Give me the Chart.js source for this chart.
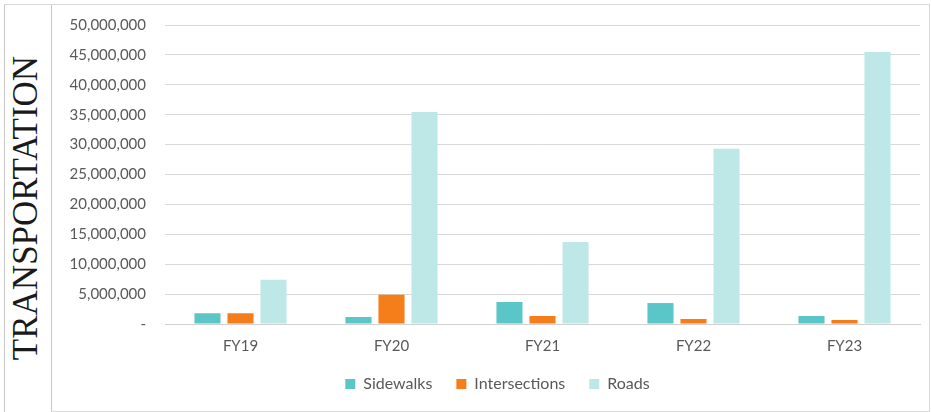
<!DOCTYPE html>
<html>
<head>
<meta charset="utf-8">
<script src="https://cdn.jsdelivr.net/npm/chart.js@4"></script>
<style>
  html, body { margin: 0; padding: 0; background: #fff; width: 931px; height: 412px; overflow: hidden; }
  #titleBox { position: absolute; left: 4px; top: 4px; width: 46px; height: 408px;
    border-left: 1px solid #c8c8c8; border-right: 1px solid #c8c8c8; border-top: 1px solid #d9d9d9; }
  #title { position: absolute; left: 26px; top: 208px; transform: translate(-50%, -50%) rotate(-90deg);
    font-family: "Liberation Serif", "DejaVu Serif", serif; font-size: 35px; color: #1a1a1a;
    white-space: nowrap; }
  #chartBox { position: absolute; left: 51px; top: 4px; width: 878px; height: 406px;
    border-top: 1px solid #d9d9d9; border-right: 1px solid #d9d9d9; border-bottom: 1px solid #d9d9d9; }
  #wrap { position: absolute; left: 0; top: 0; width: 878px; height: 406px; }
</style>
</head>
<body>
<div id="titleBox"></div>
<div id="title">TRANSPORTATION</div>
<div id="chartBox"><div id="wrap"><canvas id="c"></canvas></div></div>
<script>
const categories = ["FY19", "FY20", "FY21", "FY22", "FY23"];
const sidewalks = [1800000, 1170000, 3680000, 3500000, 1340000];
const intersections = [1800000, 4900000, 1340000, 840000, 670000];
const roads = [7400000, 35450000, 13700000, 29300000, 45500000];
const yTicks = [0, 5000000, 10000000, 15000000, 20000000, 25000000, 30000000, 35000000, 40000000, 45000000, 50000000];

const fontFam = "Lato, 'Open Sans', sans-serif";
const grey = "#595959";

new Chart(document.getElementById("c"), {
  type: "bar",
  data: {
    labels: categories,
    datasets: [
      { label: "Sidewalks", data: sidewalks, backgroundColor: "#5BC6C7" },
      { label: "Intersections", data: intersections, backgroundColor: "#F57E1B" },
      { label: "Roads", data: roads, backgroundColor: "#BDE8E7" }
    ]
  },
  options: {
    responsive: true,
    maintainAspectRatio: false,
    animation: false,
    devicePixelRatio: 1,
    datasets: { bar: { categoryPercentage: 0.656, barPercentage: 0.79 } },
    layout: { padding: { top: 20, right: 9, bottom: 9, left: 24 } },
    plugins: {
      legend: {
        position: "bottom",
        labels: { boxWidth: 10, boxHeight: 10, color: grey, font: { family: fontFam, size: 16 }, padding: 24 }
      },
      tooltip: { enabled: false }
    },
    scales: {
      x: {
        afterFit: (axis) => { axis.height = 28; axis._computeLabelArea = () => undefined; },
        grid: { display: false },
        border: { display: true, color: "#d0d0d0", width: 1 },
        ticks: { color: grey, font: { family: fontFam, size: 15 }, padding: 5 }
      },
      y: {
        min: 0, max: 50000000,
        afterBuildTicks: (axis) => { axis.ticks = yTicks.map(v => ({ value: v })); },
        afterFit: (axis) => {
          axis.width = 90; axis.paddingTop = 0; axis.paddingBottom = 0;
          axis._computeLabelArea = () => undefined;
        },
        grid: { color: "#d9d9d9", drawTicks: false },
        border: { display: false },
        ticks: {
          color: grey, font: { family: fontFam, size: 15 }, padding: 19,
          callback: (v) => v === 0 ? "-" : v.toLocaleString("en-US")
        }
      }
    }
  }
});
</script>
</body>
</html>
